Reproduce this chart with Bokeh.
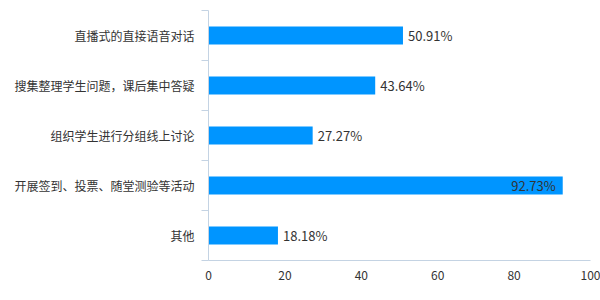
from bokeh.plotting import figure
from bokeh.models import ColumnDataSource, FixedTicker, Range1d, LinearAxis
from bokeh.embed import file_html
from bokeh.resources import INLINE
from bokeh.core.properties import value

categories = ["直播式的直接语音对话", "搜集整理学生问题，课后集中答疑", "组织学生进行分组线上讨论",
              "开展签到、投票、随堂测验等活动", "其他"]
values = [50.91, 43.64, 27.27, 92.73, 18.18]
x_ticks = [0, 20, 40, 60, 80, 100]

n = len(categories)
ypos = [n - 1 - i for i in range(n)]
labels = ["%.2f%%" % v for v in values]
inside = [v > 90 for v in values]

FONT = "Noto Sans CJK SC"

p = figure(width=600, height=300, output_backend="svg", toolbar_location=None,
           x_range=Range1d(0, 100), y_range=Range1d(-0.5, n - 0.5),
           min_border_left=208, min_border_right=10, min_border_top=10, min_border_bottom=40,
           x_axis_type=None, y_axis_type=None)
p.outline_line_color = None
p.xgrid.visible = False
p.ygrid.visible = False

src = ColumnDataSource(dict(y=ypos, v=values, lab=labels))
p.hbar(y="y", right="v", left=0, height=0.36, source=src, color="#0095ff", line_color=None)

out_idx = [i for i in range(n) if not inside[i]]
in_idx = [i for i in range(n) if inside[i]]
src_out = ColumnDataSource(dict(y=[ypos[i] for i in out_idx], v=[values[i] for i in out_idx],
                                lab=[labels[i] for i in out_idx]))
src_in = ColumnDataSource(dict(y=[ypos[i] for i in in_idx], v=[values[i] for i in in_idx],
                               lab=[labels[i] for i in in_idx]))
p.text(x="v", y="y", text="lab", source=src_out, x_offset=5, text_align="left",
       text_baseline="middle", text_font=value(FONT), text_font_size="13px", text_color="#333333")
p.text(x="v", y="y", text="lab", source=src_in, x_offset=-7, text_align="right",
       text_baseline="middle", text_font=value(FONT), text_font_size="13px", text_color="#333333")

axis_color = "#c4d3e3"

xaxis = LinearAxis(ticker=FixedTicker(ticks=x_ticks))
xaxis.axis_line_color = axis_color
xaxis.major_tick_line_color = None
xaxis.minor_tick_line_color = None
xaxis.major_tick_out = 0
xaxis.major_label_standoff = 10
xaxis.major_label_text_font = FONT
xaxis.major_label_text_font_size = "12px"
xaxis.major_label_text_color = "#333333"
p.add_layout(xaxis, "below")

yaxis = LinearAxis(ticker=FixedTicker(ticks=ypos, minor_ticks=[k - 0.5 for k in range(n + 1)]))
yaxis.axis_line_color = axis_color
yaxis.major_tick_line_color = None
yaxis.major_tick_out = 7
yaxis.major_tick_in = 0
yaxis.minor_tick_line_color = axis_color
yaxis.minor_tick_out = 7
yaxis.minor_tick_in = 0
yaxis.major_label_standoff = 7
yaxis.major_label_overrides = {ypos[i]: categories[i] for i in range(n)}
yaxis.major_label_text_font = FONT
yaxis.major_label_text_font_size = "12px"
yaxis.major_label_text_color = "#333333"
p.add_layout(yaxis, "left")

open("out.html", "w").write(file_html(p, INLINE))
